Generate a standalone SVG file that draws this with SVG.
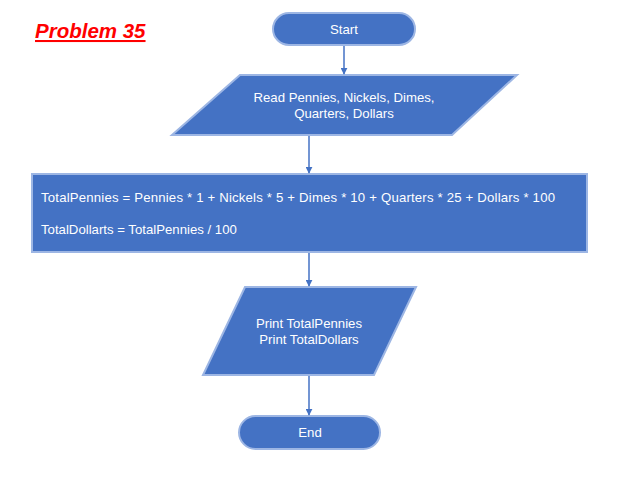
<svg xmlns="http://www.w3.org/2000/svg" width="621" height="502" viewBox="0 0 621 502">
<defs>
<style>
.shape{fill:#4472C4;stroke:#9DB6E4;stroke-width:2}
.t{fill:#FFFFFF;font-family:"Liberation Sans",Arial,sans-serif;font-size:13.2px}
.c{text-anchor:middle}
.conn{stroke:#4472C4;stroke-width:1.5;fill:none;marker-end:url(#arr)}
</style>
<marker id="arr" viewBox="0 0 10 10" refX="9" refY="5" markerWidth="7" markerHeight="7" markerUnits="userSpaceOnUse" orient="auto">
<path d="M0,0 L10,5 L0,10 z" fill="#4472C4"/>
</marker>
</defs>
<rect width="621" height="502" fill="#FFFFFF"/>
<g id="title">
<text x="35" y="38" font-family="'Liberation Sans',Arial,sans-serif" font-size="20.5" font-weight="bold" font-style="italic" fill="#FF0000" text-decoration="underline">Problem 35</text>
</g>
<g id="start">
<rect class="shape" x="273" y="13" width="142" height="32" rx="16" ry="16"/>
<text class="t c" x="344" y="34">Start</text>
</g>
<g id="read">
<polygon class="shape" points="240,75 517,75 452,135 172,135"/>
<text class="t c" x="344" y="102">Read Pennies, Nickels, Dimes,</text>
<text class="t c" x="344" y="118">Quarters, Dollars</text>
</g>
<g id="compute">
<rect class="shape" x="32" y="174" width="555" height="78"/>
<text class="t" x="41" y="202" textLength="514" lengthAdjust="spacing">TotalPennies = Pennies * 1 + Nickels * 5 + Dimes * 10 + Quarters * 25 + Dollars * 100</text>
<text class="t" x="41" y="234">TotalDollarts = TotalPennies / 100</text>
</g>
<g id="print">
<polygon class="shape" points="245,287 416,287 374,375 203,375"/>
<text class="t c" x="309" y="328">Print TotalPennies</text>
<text class="t c" x="309" y="344">Print TotalDollars</text>
</g>
<g id="end">
<rect class="shape" x="239" y="416" width="141" height="33" rx="16.5" ry="16.5"/>
<text class="t c" x="310" y="437">End</text>
</g>
<g id="connectors">
<line class="conn" x1="344" y1="46" x2="344" y2="74"/>
<line class="conn" x1="309" y1="136" x2="309" y2="173"/>
<line class="conn" x1="309" y1="253" x2="309" y2="286"/>
<line class="conn" x1="309" y1="376" x2="309" y2="415"/>
</g>
</svg>
